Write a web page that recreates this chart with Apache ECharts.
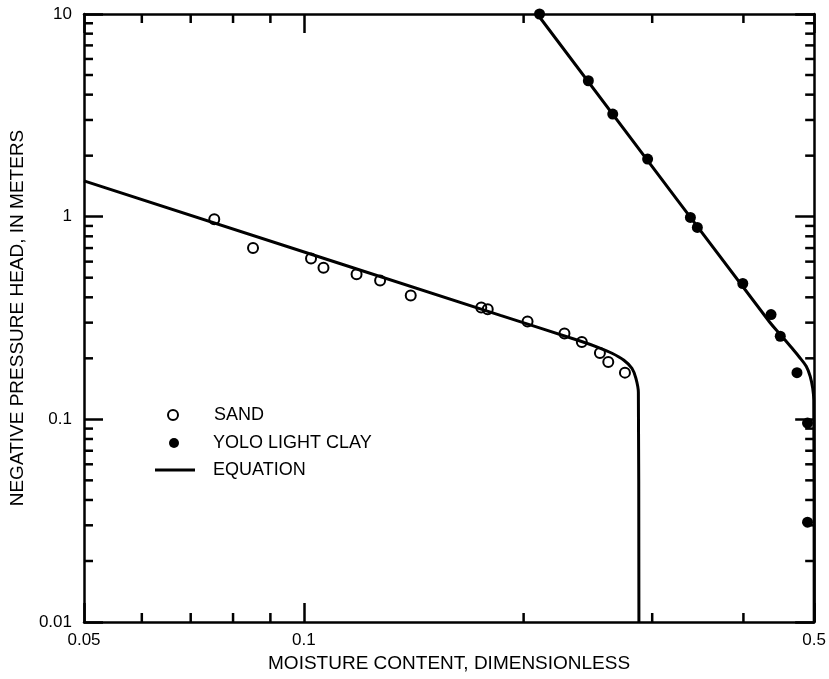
<!DOCTYPE html>
<html>
<head>
<meta charset="utf-8">
<script src="https://cdn.jsdelivr.net/npm/echarts@6/dist/echarts.min.js"></script>
<style>
html,body{margin:0;padding:0;background:#fff;}
#chart{width:829px;height:679px;}
</style>
</head>
<body>
<div id="chart"></div>
<script>
// ---- data ----
const sandTheta = [0.0754, 0.0852, 0.1023, 0.1064, 0.1181, 0.1272, 0.1401, 0.1750, 0.1786, 0.2025, 0.2275, 0.2403, 0.2544, 0.2612, 0.2753];
const sandH     = [0.972, 0.701, 0.622, 0.559, 0.520, 0.484, 0.408, 0.356, 0.349, 0.304, 0.265, 0.241, 0.2125, 0.192, 0.170];

const clayTheta = [0.2103, 0.2453, 0.2649, 0.2957, 0.3384, 0.3459, 0.3992, 0.4364, 0.4493, 0.4736, 0.4896, 0.4896];
const clayH     = [10.0, 4.685, 3.207, 1.923, 0.991, 0.885, 0.468, 0.329, 0.257, 0.170, 0.0959, 0.0311];

const sandEqTheta = [0.05, 0.1859, 0.2390, 0.2529, 0.2643, 0.2744, 0.2814, 0.2850, 0.2872, 0.2877];
const sandEqH     = [1.501, 0.326, 0.2436, 0.2267, 0.2118, 0.1956, 0.1786, 0.1594, 0.1359, 0.01];

const clayEqTheta = [0.2088, 0.4341, 0.4503, 0.4651, 0.4770, 0.4876, 0.4937, 0.4977, 0.4993, 0.5];
const clayEqH     = [10.0, 0.303, 0.260, 0.2267, 0.2031, 0.1827, 0.1631, 0.1422, 0.1241, 0.01];

const xMinorTicks = [0.06, 0.07, 0.08, 0.09, 0.2, 0.3, 0.4];
const yMinorTicks = [0.02, 0.03, 0.04, 0.05, 0.06, 0.07, 0.08, 0.09,
                     0.2, 0.3, 0.4, 0.5, 0.6, 0.7, 0.8, 0.9,
                     2, 3, 4, 5, 6, 7, 8, 9];

const X_MIN = 0.05, X_MAX = 0.5, Y_MIN = 0.01, Y_MAX = 10;
const xLabels = ['0.05', '0.1', '0.5'];
const yLabels = ['0.01', '0.1', '1', '10'];

const xTitle = 'MOISTURE CONTENT, DIMENSIONLESS';
const yTitle = 'NEGATIVE PRESSURE HEAD, IN METERS';
const names = ['SAND', 'YOLO LIGHT CLAY', 'EQUATION'];

// ---- chart ----
const FONT = 'Liberation Sans, Arial, Helvetica, sans-serif';
const chart = echarts.init(document.getElementById('chart'), null, {renderer: 'canvas'});

const zip = (a, b) => a.map((v, i) => [v, b[i]]);
const AX = 2.5;

function fmt(v) {
  return String(+(+v).toPrecision(6));
}

const axisCommon = {
  type: 'log',
  logBase: 10,
  axisLine: {show: true, lineStyle: {color: '#000', width: AX}},
  axisTick: {show: true, inside: true, length: 19, lineStyle: {color: '#000', width: AX}},
  splitLine: {show: false},
  minorTick: {show: false},
  minorSplitLine: {show: false}
};

const minorTickStyle = {stroke: '#000', lineWidth: AX};
const MINOR_LEN = 9;

const option = {
  backgroundColor: '#fff',
  animation: false,
  grid: {left: 82, right: 14, top: 14, bottom: 57},
  xAxis: [
    Object.assign({}, axisCommon, {
      position: 'bottom', min: X_MIN, max: X_MAX,
      name: xTitle, nameLocation: 'middle', nameGap: 31,
      nameTextStyle: {fontFamily: FONT, fontSize: 19, color: '#000'},
      axisLabel: {
        show: true, margin: 10, color: '#000', fontFamily: FONT, fontSize: 17,
        formatter: v => { const s = fmt(v); return xLabels.indexOf(s) >= 0 ? s : ''; }
      }
    }),
    Object.assign({}, axisCommon, {
      position: 'top', min: X_MIN, max: X_MAX,
      axisLabel: {show: false}
    })
  ],
  yAxis: [
    Object.assign({}, axisCommon, {
      position: 'left', min: Y_MIN, max: Y_MAX,
      name: yTitle, nameLocation: 'middle', nameGap: 57,
      nameTextStyle: {fontFamily: FONT, fontSize: 19, color: '#000'},
      axisLabel: {
        show: true, margin: 12, color: '#000', fontFamily: FONT, fontSize: 17,
        formatter: v => { const s = fmt(v); return yLabels.indexOf(s) >= 0 ? s : ''; }
      }
    }),
    Object.assign({}, axisCommon, {
      position: 'right', min: Y_MIN, max: Y_MAX,
      axisLabel: {show: false}
    })
  ],
  legend: [
    {
      data: [names[0]], orient: 'vertical', left: 167, top: 406, padding: 0,
      itemWidth: 10, itemHeight: 10, selectedMode: false,
      textStyle: {fontFamily: FONT, fontSize: 18, color: '#000', padding: [0, 0, 0, 31]}
    },
    {
      data: [names[1]], orient: 'vertical', left: 169, top: 434, padding: 0,
      itemWidth: 10, itemHeight: 10, selectedMode: false,
      textStyle: {fontFamily: FONT, fontSize: 18, color: '#000', padding: [0, 0, 0, 29]}
    },
    {
      data: [{name: names[2], icon: 'rect', itemStyle: {color: '#000'}}],
      orient: 'vertical', left: 155, top: 461, padding: 0,
      itemWidth: 40, itemHeight: 3, selectedMode: false,
      textStyle: {fontFamily: FONT, fontSize: 18, color: '#000', padding: [0, 0, 0, 13]}
    }
  ],
  series: [
    {
      name: names[2], type: 'line', xAxisIndex: 0, yAxisIndex: 0,
      data: zip(sandEqTheta, sandEqH), showSymbol: false, symbol: 'none',
      smooth: 0.35, lineStyle: {color: '#000', width: 3}, itemStyle: {color: '#000'}, z: 3
    },
    {
      name: names[2], type: 'line', xAxisIndex: 0, yAxisIndex: 0,
      data: zip(clayEqTheta, clayEqH), showSymbol: false, symbol: 'none',
      smooth: 0.35, lineStyle: {color: '#000', width: 3}, itemStyle: {color: '#000'}, z: 3
    },
    {
      name: names[0], type: 'scatter', xAxisIndex: 0, yAxisIndex: 0,
      data: zip(sandTheta, sandH), symbol: 'circle', symbolSize: 10,
      itemStyle: {color: 'rgba(255,255,255,0)', borderColor: '#000', borderWidth: 2, opacity: 1}, z: 4
    },
    {
      name: names[1], type: 'scatter', xAxisIndex: 0, yAxisIndex: 0,
      data: zip(clayTheta, clayH), symbol: 'circle', symbolSize: 11,
      itemStyle: {color: '#000', opacity: 1}, z: 4
    },
    {
      type: 'custom', xAxisIndex: 0, yAxisIndex: 0, silent: true, clip: false,
      data: xMinorTicks.map(v => [v, Y_MIN]),
      renderItem: (params, api) => {
        const v = api.value(0);
        const b = api.coord([v, Y_MIN]);
        const t = api.coord([v, Y_MAX]);
        return {type: 'group', children: [
          {type: 'line', shape: {x1: b[0], y1: b[1], x2: b[0], y2: b[1] - MINOR_LEN}, style: minorTickStyle},
          {type: 'line', shape: {x1: t[0], y1: t[1], x2: t[0], y2: t[1] + MINOR_LEN}, style: minorTickStyle}
        ]};
      }, z: 2
    },
    {
      type: 'custom', xAxisIndex: 0, yAxisIndex: 0, silent: true, clip: false,
      data: yMinorTicks.map(v => [X_MIN, v]),
      renderItem: (params, api) => {
        const v = api.value(1);
        const l = api.coord([X_MIN, v]);
        const r = api.coord([X_MAX, v]);
        return {type: 'group', children: [
          {type: 'line', shape: {x1: l[0], y1: l[1], x2: l[0] + MINOR_LEN, y2: l[1]}, style: minorTickStyle},
          {type: 'line', shape: {x1: r[0], y1: r[1], x2: r[0] - MINOR_LEN, y2: r[1]}, style: minorTickStyle}
        ]};
      }, z: 2
    }
  ]
};
chart.setOption(option);
</script>
</body>
</html>
